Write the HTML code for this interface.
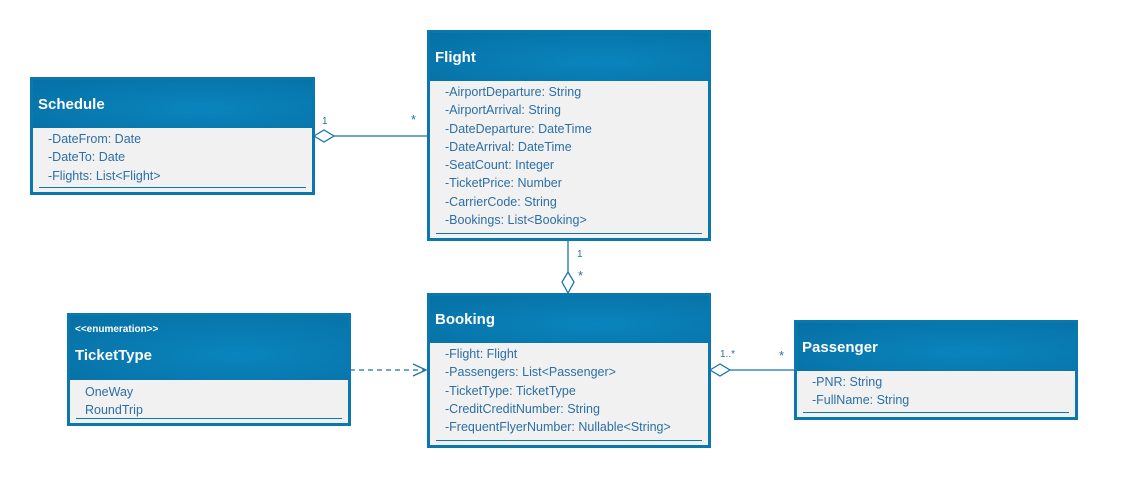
<!DOCTYPE html>
<html><head><meta charset="utf-8"><style>
body{margin:0;width:1121px;height:490px;background:#fff;position:relative;overflow:hidden;font-family:"Liberation Sans",sans-serif}
.c{position:absolute;border:3px solid #0b78ad;background:#f1f1f1;box-sizing:border-box}
.c:after{content:"";position:absolute;left:6px;right:6px;bottom:4px;border-top:1px solid #0b78ad}
.h{background:radial-gradient(ellipse at 60% 60%,#0a84bd,#0670a4);color:#fff;font-size:15px;font-weight:bold;padding-left:5px;box-sizing:border-box;display:flex;align-items:center}
.b{padding:2px 0 0 15px;font-size:12.5px;color:#2b6fa6;line-height:18.3px}
.l{position:absolute;font-size:10px;color:#2b6fa6}
.s{position:absolute;font-size:13px;color:#2b6fa6}
</style></head><body>
<svg width="1121" height="490" style="position:absolute;left:0;top:0">
<g stroke="#1a76a8" stroke-width="1.3" fill="#fff">
<line x1="334" y1="136" x2="427" y2="136"/>
<polygon points="314,136 324,130 334,136 324,142"/>
<line x1="568" y1="240" x2="568" y2="272"/>
<polygon points="568,272 574,282 568,293 562,282"/>
<line x1="730" y1="370" x2="794" y2="370"/>
<polygon points="710,370 720,364 730,370 720,376"/>
<line x1="350" y1="370" x2="425" y2="370" stroke-dasharray="5,4"/>
<polyline points="413,364 426,370 413,376" fill="none"/>
</g></svg>
<div class="l" style="left:322px;top:116px">1</div>
<div class="s" style="left:411px;top:112px">*</div>
<div class="l" style="left:577px;top:249px">1</div>
<div class="s" style="left:578px;top:268px">*</div>
<div class="l" style="left:720px;top:349px">1..*</div>
<div class="s" style="left:779px;top:348px">*</div>

<div class="c" style="left:30px;top:77px;width:285px;height:118px">
<div class="h" style="height:48px">Schedule</div>
<div class="b">-DateFrom: Date<br>-DateTo: Date<br>-Flights: List&lt;Flight&gt;</div></div>

<div class="c" style="left:427px;top:30px;width:284px;height:211px">
<div class="h" style="height:48px">Flight</div>
<div class="b">-AirportDeparture: String<br>-AirportArrival: String<br>-DateDeparture: DateTime<br>-DateArrival: DateTime<br>-SeatCount: Integer<br>-TicketPrice: Number<br>-CarrierCode: String<br>-Bookings: List&lt;Booking&gt;</div></div>

<div class="c" style="left:427px;top:293px;width:284px;height:155px">
<div class="h" style="height:47px">Booking</div>
<div class="b">-Flight: Flight<br>-Passengers: List&lt;Passenger&gt;<br>-TicketType: TicketType<br>-CreditCreditNumber: String<br>-FrequentFlyerNumber: Nullable&lt;String&gt;</div></div>

<div class="c" style="left:67px;top:313px;width:284px;height:113px">
<div class="h" style="height:64px;display:block;padding-top:8px"><div style="font-size:10px">&lt;&lt;enumeration&gt;&gt;</div><div style="margin-top:12px">TicketType</div></div>
<div class="b" style="padding-top:3px">OneWay<br>RoundTrip</div></div>

<div class="c" style="left:794px;top:320px;width:284px;height:100px">
<div class="h" style="height:48px">Passenger</div>
<div class="b">-PNR: String<br>-FullName: String</div></div>
</body></html>
